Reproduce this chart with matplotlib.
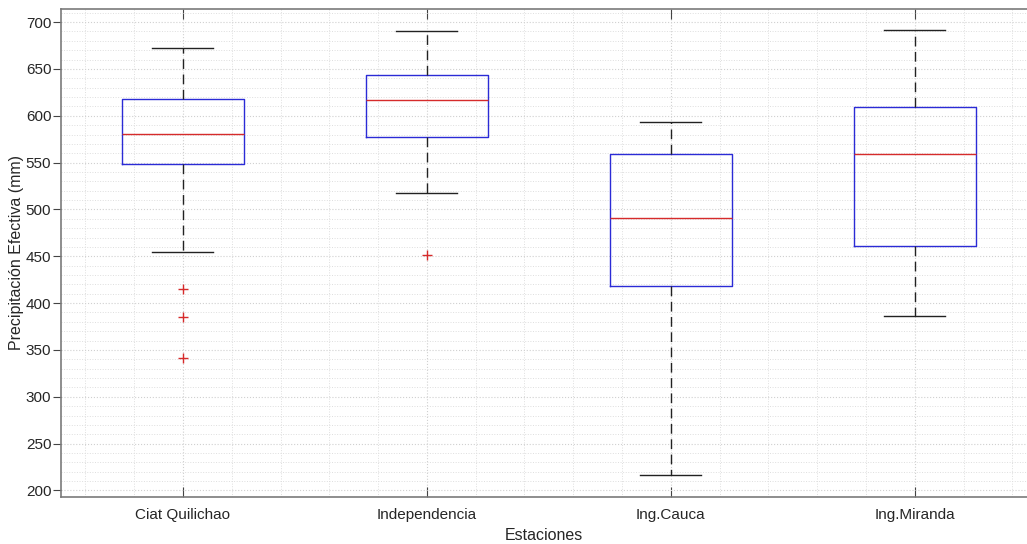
import matplotlib.pyplot as plt
from matplotlib.ticker import MultipleLocator

plt.rcParams['font.family'] = ['Liberation Sans', 'DejaVu Sans']

# valores (mm)
estaciones = ['Ciat Quilichao', 'Independencia', 'Ing.Cauca', 'Ing.Miranda']
bigote_inf = [455, 518, 216, 386]
q1 = [548, 577, 418, 461]
mediana = [581, 617, 491, 559]
q3 = [618, 644, 559, 609]
bigote_sup = [672, 690, 593, 692]
atipicos = [[415, 385, 341], [451], [], []]

stats = []
for i in range(len(estaciones)):
    stats.append({'label': estaciones[i], 'whislo': bigote_inf[i], 'q1': q1[i],
                  'med': mediana[i], 'q3': q3[i], 'whishi': bigote_sup[i],
                  'fliers': atipicos[i]})

fig = plt.figure(figsize=(10.27, 5.44), dpi=100)
ax = fig.add_axes([61 / 1027, 1 - 497 / 544, (1027 - 61) / 1027, (497 - 9) / 544])

ax.bxp(stats, positions=[1, 2, 3, 4], widths=0.5,
       boxprops=dict(color='#2b2bd6', lw=1),
       medianprops=dict(color='#d62b2b', lw=1),
       whiskerprops=dict(color='#222222', lw=1, ls=(0, (7, 4))),
       capprops=dict(color='#222222', lw=1),
       capwidths=0.25,
       flierprops=dict(marker='+', markeredgecolor='#d62b2b', markersize=7,
                       markeredgewidth=1, ls='none'))

ax.set_xlim(0.5, 4.46)
ax.set_ylim(193, 714)
ax.yaxis.set_major_locator(MultipleLocator(50))
ax.yaxis.set_minor_locator(MultipleLocator(10))
ax.xaxis.set_minor_locator(MultipleLocator(0.2))

ax.grid(True, which='major', color='#d0d0d0', ls=':', lw=0.8)
ax.grid(True, which='minor', color='#dedede', ls=':', lw=0.7)
ax.set_axisbelow(True)

for s in ['left', 'bottom', 'top']:
    ax.spines[s].set_color('#7a7a7a')
    ax.spines[s].set_linewidth(1.2)
ax.spines['right'].set_visible(False)

ax.tick_params(axis='y', which='major', direction='out', length=6, color='#444444',
               labelsize=11, labelcolor='#262626', pad=1)
ax.tick_params(axis='y', which='minor', length=0)
ax.tick_params(axis='x', which='major', direction='in', length=7, color='#444444',
               top=True, labelsize=11, labelcolor='#262626', pad=8)
ax.tick_params(axis='x', which='minor', length=0)

ax.set_xlabel('Estaciones', fontsize=11.5, color='#262626', labelpad=4)
ax.set_ylabel('Precipitación Efectiva (mm)', fontsize=11.5, color='#262626', labelpad=1)

plt.savefig('out.png', dpi=100)
